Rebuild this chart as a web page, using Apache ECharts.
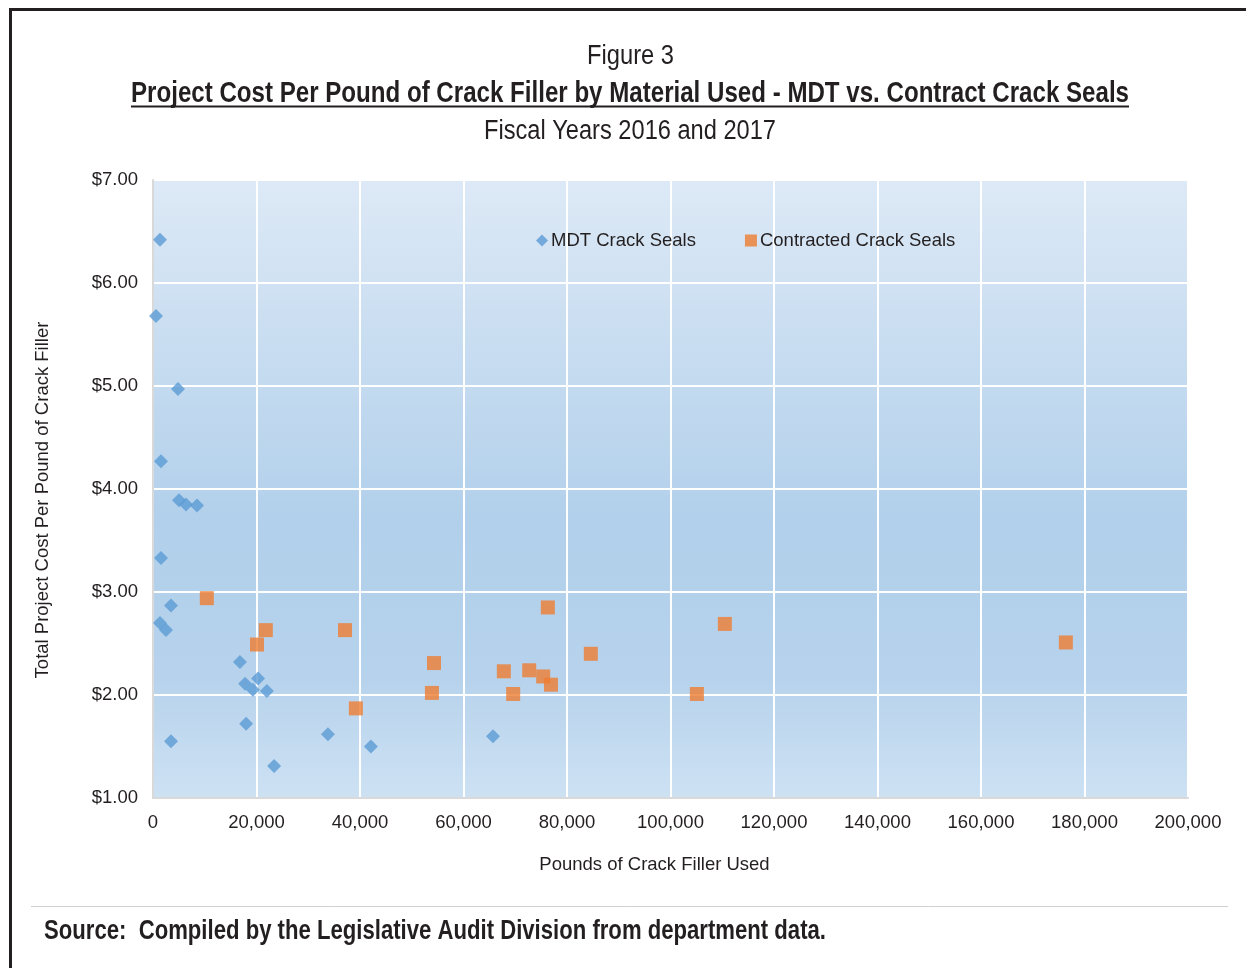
<!DOCTYPE html>
<html><head><meta charset="utf-8">
<script src="https://cdn.jsdelivr.net/npm/echarts@6/dist/echarts.min.js"></script>
<style>html,body{margin:0;padding:0;background:#fff;}#c{width:1246px;height:968px;}</style>
</head><body><div id="c"></div>
<script>
const mdtPounds = [1350, 580, 4830, 1550, 5020, 6380, 8500, 1550, 3480, 1350, 2510, 3480, 16800, 17800, 19300, 20300, 22000, 18000, 23400, 33800, 42100, 65700];
const mdtCost   = [6.42, 5.68, 4.97, 4.27, 3.89, 3.85, 3.84, 3.33, 2.87, 2.70, 2.63, 1.55, 2.32, 2.11, 2.05, 2.16, 2.04, 1.72, 1.31, 1.62, 1.50, 1.60];
const conPounds = [10400, 20100, 21800, 37100, 39200, 54300, 53900, 67800, 69600, 72700, 75400, 76900, 76300, 84600, 105100, 110500, 176400];
const conCost   = [2.94, 2.49, 2.63, 2.63, 1.87, 2.31, 2.02, 2.23, 2.01, 2.24, 2.18, 2.10, 2.85, 2.40, 2.01, 2.69, 2.51];
const seriesNames = ['MDT Crack Seals', 'Contracted Crack Seals'];
const xTicks = {min: 0, max: 200000, interval: 20000};
const yTicks = {min: 1, max: 7, interval: 1};
const figureLabel = 'Figure 3';
const titleText = 'Project Cost Per Pound of Crack Filler by Material Used - MDT vs. Contract Crack Seals';
const subtitleText = 'Fiscal Years 2016 and 2017';
const sourceText = 'Source:  Compiled by the Legislative Audit Division from department data.';

const sans = '"Liberation Sans",Arial,sans-serif';
const ctx = document.createElement('canvas').getContext('2d');
function fitScale(text, font, target) { ctx.font = font; return target / ctx.measureText(text).width; }
function condensedText(text, font, x, y, target, align) {
  return {type: 'text', x: x, y: y, scaleX: fitScale(text, font, target), silent: true,
    style: {text: text, font: font, fill: '#231f20', align: align, verticalAlign: 'middle'}};
}
const fTitle = 'bold 29px "Liberation Sans", Arial, sans-serif';
const fFig = '27px "Liberation Sans", Arial, sans-serif';
const fSrc = 'bold 27px "Liberation Sans", Arial, sans-serif';

const chart = echarts.init(document.getElementById('c'), null, {renderer: 'canvas'});
chart.setOption({
  animation: false,
  graphic: [
    {type: 'rect', shape: {x: 10.5, y: 9.5, width: 1400, height: 1100}, style: {fill: 'none', stroke: '#231f20', lineWidth: 3}, silent: true},
    condensedText(figureLabel, fFig, 630.5, 57, 87, 'center'),
    condensedText(titleText, fTitle, 630, 94, 998, 'center'),
    {type: 'line', shape: {x1: 131, y1: 106.5, x2: 1129, y2: 106.5}, style: {stroke: '#231f20', lineWidth: 2}, silent: true},
    condensedText(subtitleText, fFig, 630, 132, 292, 'center'),
    {type: 'line', shape: {x1: 31, y1: 906.5, x2: 1228, y2: 906.5}, style: {stroke: '#d0d0d0', lineWidth: 1}, silent: true},
    condensedText(sourceText, fSrc, 44, 932, 782, 'left')
  ],
  legend: {
    data: [{name: seriesNames[0], icon: 'diamond'}, {name: seriesNames[1], icon: 'rect'}],
    top: 226, left: 531, itemWidth: 12, itemHeight: 12, itemGap: 49,
    textStyle: {fontFamily: sans, fontSize: 18.5, color: '#231f20', padding: [0, 0, 0, -2]}
  },
  grid: {
    left: 153, top: 180, width: 1035, height: 618, show: true, borderWidth: 0,
    backgroundColor: {type: 'linear', x: 0, y: 0, x2: 0, y2: 1, colorStops: [
      {offset: 0, color: '#dde9f6'}, {offset: 0.55, color: '#b2d0eb'}, {offset: 0.8, color: '#b6d2ec'}, {offset: 1, color: '#cde1f3'}]}
  },
  xAxis: {
    type: 'value', min: xTicks.min, max: xTicks.max, interval: xTicks.interval,
    name: 'Pounds of Crack Filler Used', nameLocation: 'middle', nameGap: 57,
    nameTextStyle: {fontFamily: sans, fontSize: 18.5, color: '#231f20', padding: [0, 32, 0, 0]},
    axisLine: {show: true, lineStyle: {color: '#d9d9d9', width: 2}},
    axisTick: {show: false},
    splitLine: {show: true, lineStyle: {color: '#ffffff', width: 2}},
    axisLabel: {fontFamily: sans, fontSize: 18.5, color: '#231f20', margin: 15, formatter: v => v.toLocaleString('en-US')}
  },
  yAxis: {
    type: 'value', min: yTicks.min, max: yTicks.max, interval: yTicks.interval,
    name: 'Total Project Cost Per Pound of Crack Filler', nameLocation: 'middle', nameGap: 101,
    nameTextStyle: {fontFamily: sans, fontSize: 18.5, color: '#231f20', padding: [0, 22, 0, 0]},
    axisLine: {show: true, lineStyle: {color: '#d9d9d9', width: 2}},
    axisTick: {show: false},
    splitLine: {show: true, lineStyle: {color: '#ffffff', width: 2}},
    axisLabel: {fontFamily: sans, fontSize: 18.5, color: '#231f20', margin: 15, formatter: v => '$' + v.toFixed(2)}
  },
  series: [
    {name: seriesNames[0], type: 'scatter', symbol: 'diamond', symbolSize: 14,
     itemStyle: {color: '#5b9bd5'}, data: mdtPounds.map((x, i) => [x, mdtCost[i]])},
    {name: seriesNames[1], type: 'scatter', symbol: 'rect', symbolSize: 14,
     itemStyle: {color: '#ed7d31'}, data: conPounds.map((x, i) => [x, conCost[i]])}
  ]
});
</script></body></html>
